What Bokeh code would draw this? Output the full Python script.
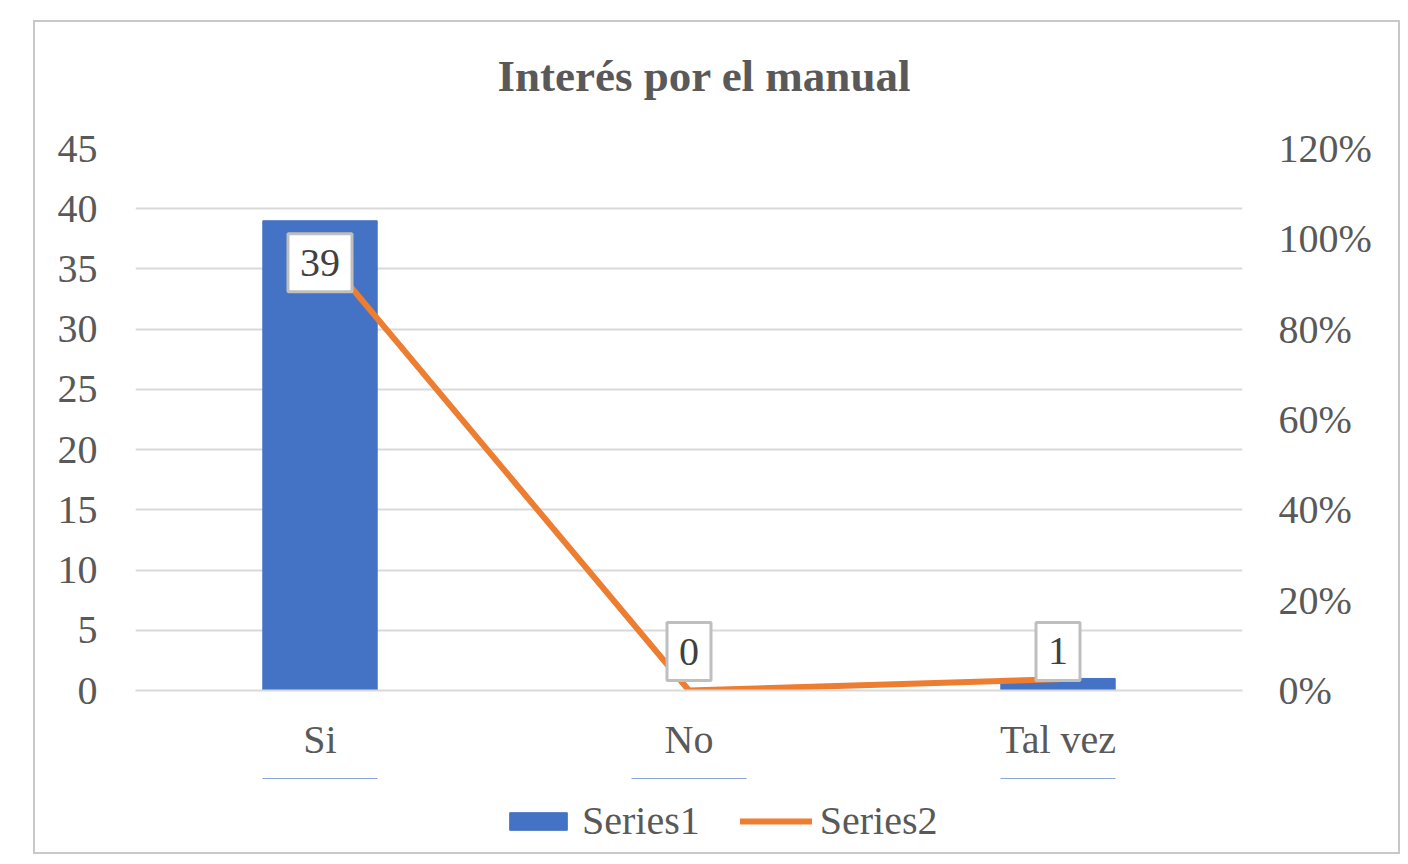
from bokeh.plotting import figure
from bokeh.layouts import column
from bokeh.models import (Range1d, LinearAxis, FactorRange, NumeralTickFormatter,
                          FixedTicker, Legend, LegendItem, ColumnDataSource, Title)
from bokeh.core.properties import value
from bokeh.embed import file_html
from bokeh.resources import INLINE

categories = ["Si", "No", "Tal vez"]
series1 = [39, 0, 1]
series2 = [0.975, 0.0, 0.025]
data_labels = ["39", "0", "1"]
label_offsets = [42, -39, -27]
series_names = ["Series1", "Series2"]
title_text = "Interés por el manual"

FONT = "Liberation Serif"
TXT = "#595959"
GRID = "#d9d9d9"
BLUE = "#4472C4"
ORANGE = "#ED7D31"
W = 1363

src = ColumnDataSource(dict(cat=categories, s1=series1, s2=series2,
                            lab=data_labels, off=label_offsets))

# ---- title strip ----
p_top = figure(width=W, height=100, output_backend="svg", toolbar_location=None,
               x_axis_type=None, y_axis_type=None,
               min_border_left=0, min_border_right=0, min_border_top=78,
               min_border_bottom=0)
p_top.outline_line_color = None
p_top.grid.visible = False
p_top.add_layout(Title(text=title_text, align="left", text_font=FONT,
                       text_font_size="45px", text_font_style="bold",
                       text_color=TXT, standoff=0, offset=362), "above")

# ---- main chart ----
p = figure(x_range=FactorRange(*categories, range_padding=0),
           y_range=Range1d(0, 45),
           frame_width=1107, frame_height=542,
           output_backend="svg", toolbar_location=None,
           min_border_left=100, min_border_right=156, min_border_top=26,
           min_border_bottom=88)
p.outline_line_color = None
p.background_fill_color = "white"
p.border_fill_color = "white"

p.extra_y_ranges = {"pct": Range1d(0, 1.2)}

p.vbar(x="cat", top="s1", width=0.31, source=src, color=BLUE)
p.line(x="cat", y="s2", source=src, y_range_name="pct",
       line_color=ORANGE, line_width=6, line_cap="round", line_join="round")

p.text(x="cat", y="s1", text="lab", source=src, y_offset="off",
       anchor="center", text_align="center", text_baseline="middle",
       text_font=value(FONT), text_font_size="40px", text_color="#404040",
       background_fill_color="white", border_line_color="#bfbfbf",
       border_line_width=3, padding=(12, 16))

p.yaxis.ticker = FixedTicker(ticks=[0, 5, 10, 15, 20, 25, 30, 35, 40, 45])
ax_r = LinearAxis(y_range_name="pct",
                  ticker=FixedTicker(ticks=[0, 0.2, 0.4, 0.6, 0.8, 1.0, 1.2]),
                  formatter=NumeralTickFormatter(format="0%"))
p.add_layout(ax_r, "right")

for ax, so in [(p.yaxis[0], 32), (ax_r, 30)]:
    ax.axis_line_color = None
    ax.major_tick_line_color = None
    ax.minor_tick_line_color = None
    ax.major_label_text_font = FONT
    ax.major_label_text_font_size = "40px"
    ax.major_label_text_color = TXT
    ax.major_label_standoff = so

p.xaxis.axis_line_color = GRID
p.xaxis.axis_line_width = 2
p.xaxis.major_tick_line_color = None
p.xaxis.minor_tick_line_color = None
p.xaxis.major_label_text_font = FONT
p.xaxis.major_label_text_font_size = "40px"
p.xaxis.major_label_text_color = TXT
p.xaxis.major_label_standoff = 20

p.xgrid.grid_line_color = None
p.ygrid.grid_line_color = GRID
p.ygrid.grid_line_width = 2

# ---- legend strip (same series, nothing visible inside its frame) ----
p_leg = figure(x_range=FactorRange(*categories), y_range=Range1d(-2, -1),
               width=W, height=74, output_backend="svg", toolbar_location=None,
               x_axis_type=None, y_axis_type=None,
               min_border_left=0, min_border_right=0, min_border_top=0,
               min_border_bottom=0)
p_leg.outline_line_color = None
p_leg.grid.visible = False
leg_bar = p_leg.vbar(x="cat", top="s1", bottom="s1", width=0.31, source=src,
                     color=BLUE)
leg_line = p_leg.line(x="cat", y="s2", source=src, line_color=ORANGE,
                      line_width=6, line_cap="round")
legend = Legend(items=[LegendItem(label=series_names[0], renderers=[leg_bar]),
                       LegendItem(label=series_names[1], renderers=[leg_line])],
                orientation="horizontal", location=(367, 8),
                label_text_font=FONT, label_text_font_size="40px",
                label_text_color=TXT, glyph_width=72, glyph_height=22,
                label_standoff=8, spacing=40, border_line_color=None,
                background_fill_alpha=0, margin=0, padding=0)
p_leg.add_layout(legend, "center")

layout = column(p_top, p, p_leg, spacing=0,
                styles={"border": "2px solid #c8c8c8", "margin-left": "33px",
                        "margin-top": "20px", "background": "white"})

open("out.html", "w").write(file_html(layout, INLINE))
